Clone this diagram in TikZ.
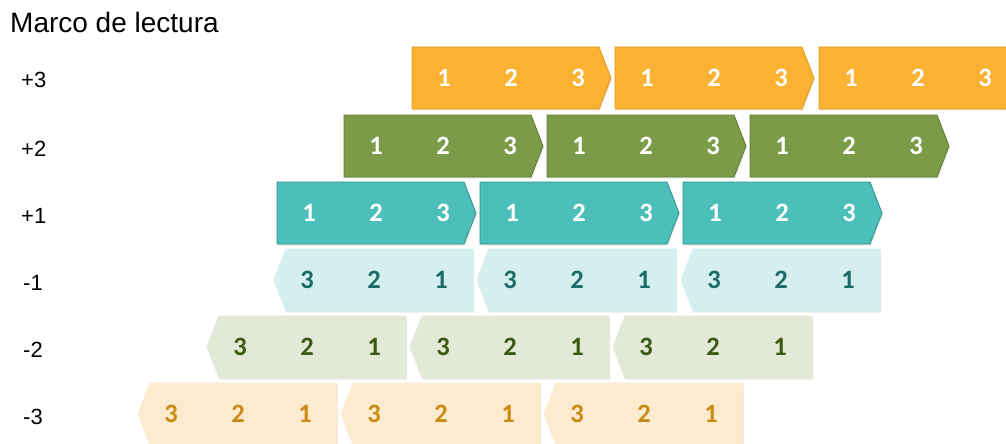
\documentclass[tikz,border=0pt]{standalone}
\usepackage{fontspec}
\setmainfont{Liberation Sans}
\newfontfamily\numfont{Carlito}[BoldFont={Carlito Bold}]
\usetikzlibrary{shadows}
\definecolor{orF}{HTML}{FBB131}
\definecolor{orD}{HTML}{E49B1C}
\definecolor{grF}{HTML}{7B9B49}
\definecolor{grD}{HTML}{5C7A2E}
\definecolor{tlF}{HTML}{4CBFBA}
\definecolor{tlD}{HTML}{2F918C}
\definecolor{ltF}{HTML}{D5EFEE}
\definecolor{ltT}{HTML}{1B6B66}
\definecolor{lgF}{HTML}{E2E9D7}
\definecolor{lgT}{HTML}{3A5A12}
\definecolor{loF}{HTML}{FDEBD0}
\definecolor{loT}{HTML}{C98B14}
\tikzset{
  num/.style={font=\numfont\bfseries\fontsize{26.5}{28}\selectfont, inner sep=0pt, anchor=base},
  rowlab/.style={font=\fontsize{22}{24}\selectfont, inner sep=0pt, anchor=base west},
  shp/.style={line width=0.8pt, drop shadow={opacity=0.18, shadow xshift=1pt, shadow yshift=-1.5pt}},
}
% right-pointing chevron: left x, centre y, fill, draw, text colour, name
\newcommand\RChev[6]{%
  \path[shp, fill=#3, draw=#4] (#1,#2-31) -- (#1+187,#2-31) -- (#1+199,#2) -- (#1+187,#2+31) -- (#1,#2+31) -- cycle;
  \node[num, text=#5] (#6a) at (#1+32,#2+8) {1};
  \node[num, text=#5] (#6b) at (#1+99,#2+8) {2};
  \node[num, text=#5] (#6c) at (#1+166,#2+8) {3};
}
% left-pointing chevron: tip x, centre y, fill, draw, text colour, name
\newcommand\LChev[6]{%
  \path[shp, fill=#3, draw=#4] (#1,#2) -- (#1+12,#2-31) -- (#1+199,#2-31) -- (#1+199,#2+31) -- (#1+12,#2+31) -- cycle;
  \node[num, text=#5] (#6a) at (#1+33,#2+8) {3};
  \node[num, text=#5] (#6b) at (#1+100,#2+8) {2};
  \node[num, text=#5] (#6c) at (#1+167,#2+8) {1};
}
\begin{document}
\begin{tikzpicture}[x=1pt,y=-1pt]
\clip (0,0) rectangle (1006,444);
\fill[white] (0,0) rectangle (1006,444);
\node[font=\fontsize{28}{30}\selectfont, inner sep=0pt, anchor=base west] (title) at (10,33) {Marco de lectura};
\node[rowlab] (lp3) at (21,88) {+3};
\node[rowlab] (lp2) at (21,156) {+2};
\node[rowlab] (lp1) at (21,223) {+1};
\node[rowlab] (lm1) at (23,290) {-1};
\node[rowlab] (lm2) at (23,357) {-2};
\node[rowlab] (lm3) at (23,424) {-3};
% +3
\RChev{412}{78}{orF}{orD}{white}{p3x}
\RChev{615}{78}{orF}{orD}{white}{p3y}
\RChev{819}{78}{orF}{orD}{white}{p3z}
% +2
\RChev{344}{146}{grF}{grD}{white}{p2x}
\RChev{547}{146}{grF}{grD}{white}{p2y}
\RChev{750}{146}{grF}{grD}{white}{p2z}
% +1
\RChev{277}{213}{tlF}{tlD}{white}{p1x}
\RChev{480}{213}{tlF}{tlD}{white}{p1y}
\RChev{683}{213}{tlF}{tlD}{white}{p1z}
% -1
\LChev{274}{280}{ltF}{ltF}{ltT}{m1x}
\LChev{477}{280}{ltF}{ltF}{ltT}{m1y}
\LChev{681}{280}{ltF}{ltF}{ltT}{m1z}
% -2
\LChev{207}{347}{lgF}{lgF}{lgT}{m2x}
\LChev{410}{347}{lgF}{lgF}{lgT}{m2y}
\LChev{613}{347}{lgF}{lgF}{lgT}{m2z}
% -3
\LChev{138}{414}{loF}{loF}{loT}{m3x}
\LChev{341}{414}{loF}{loF}{loT}{m3y}
\LChev{544}{414}{loF}{loF}{loT}{m3z}
\end{tikzpicture}
\end{document}
